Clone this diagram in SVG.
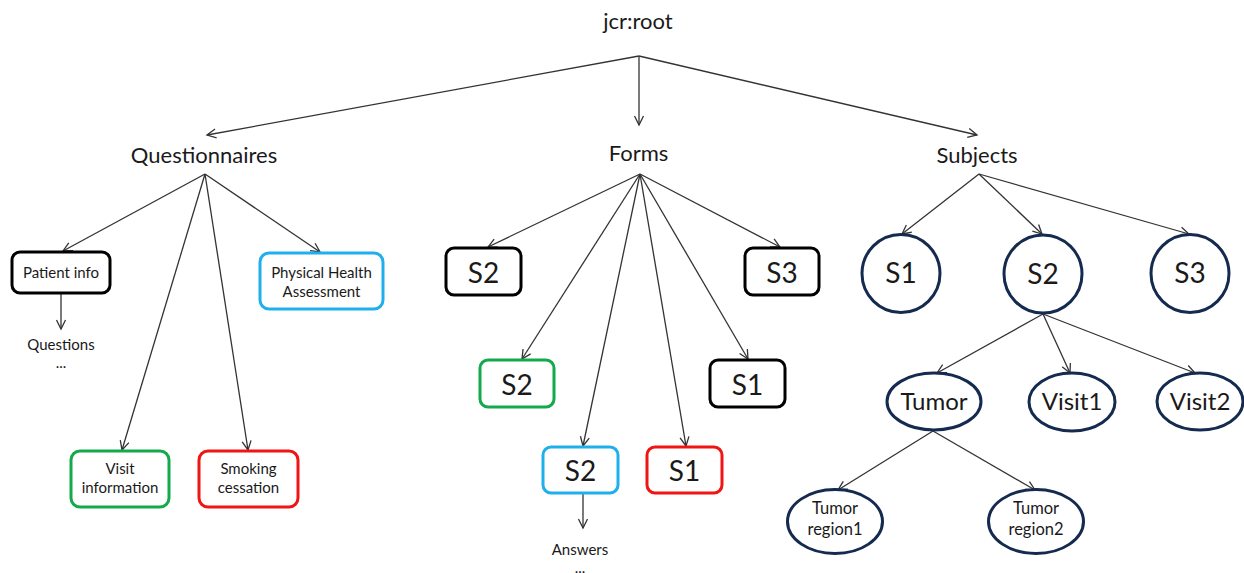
<svg xmlns="http://www.w3.org/2000/svg" width="1244" height="573" viewBox="0 0 1244 573">
<defs>
<marker id="arr" markerUnits="userSpaceOnUse" markerWidth="12" markerHeight="12" refX="10" refY="6" orient="auto" overflow="visible">
<path d="M1,1.5 L10,6 L1,10.5" fill="none" stroke="#333" stroke-width="1.3"/>
</marker>
<style>
text{font-family:Lato,"Liberation Sans",sans-serif;fill:#1a1a1a;text-anchor:middle}
.big{font-size:22px}
.sm{font-size:15px}
.s{font-size:28px}
.mid{font-size:24px}
.rg{font-size:16.5px}
.c line{stroke:#333;stroke-width:1.3;marker-end:url(#arr)}
.box{fill:#fff;stroke-width:3}
.k{stroke:#000}
.b{stroke:#1eb0ec}
.g{stroke:#14a94a}
.r{stroke:#f01414}
.n{fill:#fff;stroke:#152a4f;stroke-width:3}
</style>
</defs>
<rect width="1244" height="573" fill="#fff"/>
<g class="c" id="connectors">
<line x1="639" y1="56" x2="207" y2="135"/>
<line x1="639" y1="56" x2="639" y2="125"/>
<line x1="639" y1="56" x2="977" y2="135"/>
<line x1="205" y1="174" x2="63" y2="251"/>
<line x1="205" y1="174" x2="320" y2="252"/>
<line x1="205" y1="174" x2="122" y2="450"/>
<line x1="205" y1="174" x2="248" y2="450"/>
<line x1="61" y1="294" x2="61" y2="329"/>
<line x1="640" y1="174" x2="488" y2="247"/>
<line x1="640" y1="174" x2="780" y2="247"/>
<line x1="640" y1="174" x2="522" y2="359"/>
<line x1="640" y1="174" x2="748" y2="359"/>
<line x1="640" y1="174" x2="583" y2="446"/>
<line x1="640" y1="174" x2="686" y2="446"/>
<line x1="583" y1="494" x2="583" y2="528"/>
<line x1="979" y1="174" x2="902" y2="234"/>
<line x1="979" y1="174" x2="1042" y2="234"/>
<line x1="979" y1="174" x2="1189" y2="234"/>
<line x1="1043" y1="314" x2="937" y2="373"/>
<line x1="1043" y1="314" x2="1070" y2="373"/>
<line x1="1043" y1="314" x2="1195" y2="373"/>
<line x1="933" y1="431" x2="838" y2="490"/>
<line x1="933" y1="431" x2="1035" y2="490"/>
</g>
<g id="root"><text class="big" x="638" y="29">jcr:root</text></g>
<g id="questionnaires"><text class="big" x="204" y="163">Questionnaires</text></g>
<g id="forms"><text class="big" x="638.5" y="161">Forms</text></g>
<g id="subjects"><text class="big" x="977" y="163">Subjects</text></g>
<g id="patient-info"><rect class="box k" x="12" y="252" width="98" height="41" rx="8"/><text class="sm" x="61" y="278">Patient info</text></g>
<g id="questions"><text class="sm" x="61" y="350">Questions</text><text class="sm" x="61" y="368">...</text></g>
<g id="physical-health"><rect class="box b" x="260" y="253" width="123" height="56" rx="9"/><text class="sm" x="321.5" y="278">Physical Health</text><text class="sm" x="321.5" y="297">Assessment</text></g>
<g id="visit-information"><rect class="box g" x="71" y="451" width="98" height="56" rx="9"/><text class="sm" x="120" y="474">Visit</text><text class="sm" x="120" y="493">information</text></g>
<g id="smoking-cessation"><rect class="box r" x="199" y="451" width="99" height="56" rx="9"/><text class="sm" x="248.5" y="474">Smoking</text><text class="sm" x="248.5" y="493">cessation</text></g>
<g id="form-s2-black"><rect class="box k" x="446" y="248" width="75" height="47" rx="8"/><text class="s" x="483.5" y="283">S2</text></g>
<g id="form-s3-black"><rect class="box k" x="745" y="248" width="74" height="47" rx="8"/><text class="s" x="782" y="283">S3</text></g>
<g id="form-s2-green"><rect class="box g" x="480" y="360" width="74" height="47" rx="8"/><text class="s" x="517" y="395">S2</text></g>
<g id="form-s1-black"><rect class="box k" x="710" y="360" width="75" height="47" rx="8"/><text class="s" x="747.5" y="395">S1</text></g>
<g id="form-s2-blue"><rect class="box b" x="543" y="447" width="75" height="46" rx="8"/><text class="s" x="580.5" y="481">S2</text></g>
<g id="form-s1-red"><rect class="box r" x="647" y="447" width="75" height="46" rx="8"/><text class="s" x="684.5" y="481">S1</text></g>
<g id="answers"><text class="sm" x="580" y="555">Answers</text><text class="sm" x="580" y="572.5">...</text></g>
<g id="subject-s1"><circle class="n" cx="901" cy="273.5" r="39"/><text class="s" x="901" y="283">S1</text></g>
<g id="subject-s2"><circle class="n" cx="1043" cy="274" r="39"/><text class="s" x="1043" y="284">S2</text></g>
<g id="subject-s3"><circle class="n" cx="1190" cy="273.5" r="39"/><text class="s" x="1190" y="283">S3</text></g>
<g id="tumor"><ellipse class="n" cx="934" cy="401.5" rx="47" ry="28.5"/><text class="mid" x="934" y="410">Tumor</text></g>
<g id="visit1"><ellipse class="n" cx="1072" cy="402" rx="43" ry="29"/><text class="mid" x="1072" y="410">Visit1</text></g>
<g id="visit2"><ellipse class="n" cx="1200" cy="401.5" rx="43" ry="28.5"/><text class="mid" x="1200" y="410">Visit2</text></g>
<g id="tumor-region1"><ellipse class="n" cx="835" cy="521.5" rx="47.5" ry="32"/><text class="rg" x="835" y="514">Tumor</text><text class="rg" x="835" y="535">region1</text></g>
<g id="tumor-region2"><ellipse class="n" cx="1036" cy="521.5" rx="47.5" ry="32"/><text class="rg" x="1036" y="514">Tumor</text><text class="rg" x="1036" y="535">region2</text></g>
</svg>
